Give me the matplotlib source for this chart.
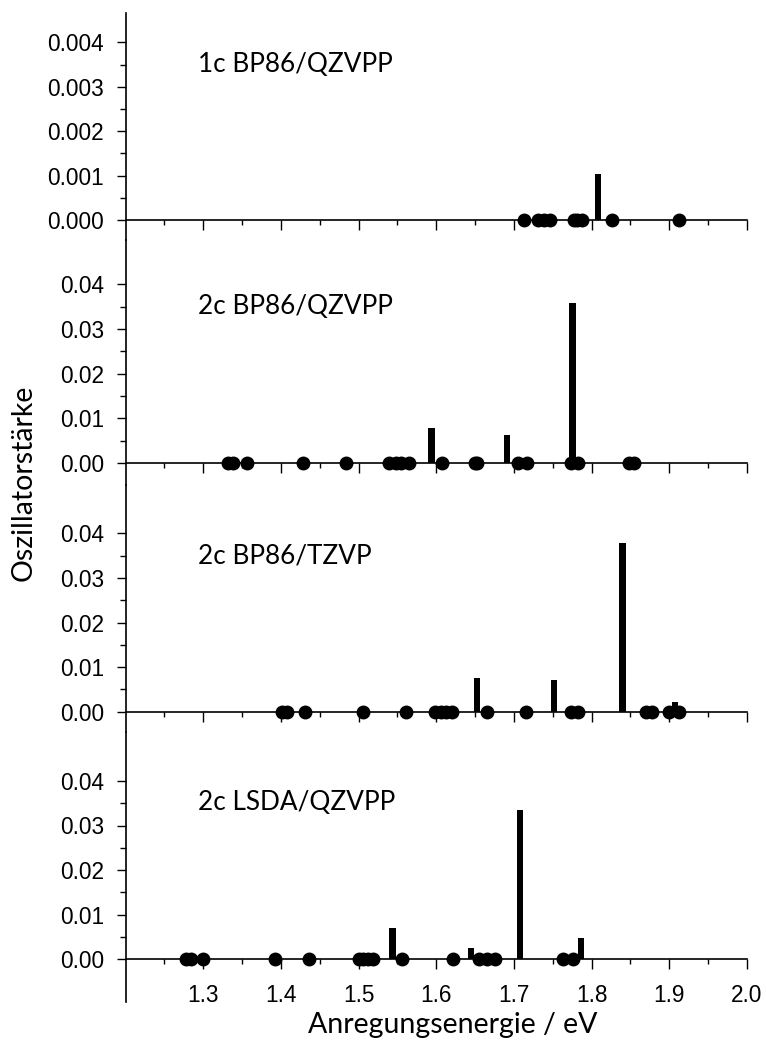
import matplotlib
matplotlib.use("Agg")
import matplotlib.pyplot as plt
from matplotlib.ticker import FixedLocator, FormatStrFormatter

# ---------------- data ----------------
panel_labels = ["1c BP86/QZVPP", "2c BP86/QZVPP", "2c BP86/TZVP", "2c LSDA/QZVPP"]

# states with (near) zero oscillator strength, drawn as dots on the axis
dots_1c_qz = [1.7126, 1.7306, 1.7383, 1.7469, 1.7768, 1.7810, 1.7875, 1.8268, 1.9128]
dots_2c_qz = [1.332, 1.338, 1.357, 1.429, 1.484, 1.539, 1.548, 1.555, 1.565,
              1.607, 1.650, 1.653, 1.705, 1.717, 1.774, 1.782, 1.848, 1.855]
dots_2c_tz = [1.402, 1.408, 1.431, 1.506, 1.561, 1.599, 1.606, 1.613, 1.620,
              1.665, 1.715, 1.774, 1.782, 1.870, 1.878, 1.900, 1.912]
dots_2c_lsda = [1.278, 1.284, 1.300, 1.393, 1.436, 1.500, 1.506, 1.512, 1.518,
                1.556, 1.621, 1.655, 1.665, 1.675, 1.763, 1.776]

# states with visible oscillator strength, drawn as bars
bar_x_1c_qz = [1.808]
bar_f_1c_qz = [0.00103]
bar_x_2c_qz = [1.594, 1.691, 1.7756]
bar_f_2c_qz = [0.0078, 0.0063, 0.0357]
bar_x_2c_tz = [1.6525, 1.7517, 1.8398, 1.907]
bar_f_2c_tz = [0.0075, 0.0071, 0.0379, 0.0022]
bar_x_2c_lsda = [1.5438, 1.6446, 1.708, 1.786]
bar_f_2c_lsda = [0.0069, 0.0025, 0.0335, 0.0047]

y_major_1c = [0.000, 0.001, 0.002, 0.003, 0.004]
y_minor_1c = [0.0005, 0.0015, 0.0025, 0.0035]
y_major_2c = [0.00, 0.01, 0.02, 0.03, 0.04]
y_minor_2c = [0.005, 0.015, 0.025, 0.035]
x_major = [1.3, 1.4, 1.5, 1.6, 1.7, 1.8, 1.9, 2.0]
x_minor = [1.25, 1.35, 1.45, 1.55, 1.65, 1.75, 1.85, 1.95]

x_label = "Anregungsenergie / eV"
y_label = "Oszillatorstärke"

# ---------------- layout ----------------
W, H = 766, 1043
fig = plt.figure(figsize=(W / 100, H / 100), dpi=100)

left_px, right_px = 125.5, 747.0
# (top px, bottom px, zero-line px, px per unit)
layout = [
    (13, 240, 220.0, 44400.0),
    (240, 485, 463.0, 4470.0),
    (485, 732, 711.7, 4460.0),
    (732, 1002, 959.0, 4450.0),
]

panels = [
    (dots_1c_qz, bar_x_1c_qz, bar_f_1c_qz, y_major_1c, y_minor_1c, "%.3f"),
    (dots_2c_qz, bar_x_2c_qz, bar_f_2c_qz, y_major_2c, y_minor_2c, "%.2f"),
    (dots_2c_tz, bar_x_2c_tz, bar_f_2c_tz, y_major_2c, y_minor_2c, "%.2f"),
    (dots_2c_lsda, bar_x_2c_lsda, bar_f_2c_lsda, y_major_2c, y_minor_2c, "%.2f"),
]

tick_font = "Liberation Sans"
text_font = ["Lato", "DejaVu Sans"]

for i, ((top, bot, zero, scale), (dots, bx, bf, ymaj, ymin_t, fmt)) in enumerate(zip(layout, panels)):
    ax = fig.add_axes([left_px / W, 1 - bot / H, (right_px - left_px) / W, (bot - top) / H])
    ax.set_xlim(1.2, 2.0)
    ax.set_ylim((zero - bot) / scale, (zero - top) / scale)
    ax.patch.set_alpha(0)

    ax.bar(bx, bf, width=0.0082, color="black", zorder=3)
    ax.plot(dots, [0] * len(dots), "o", color="black", markersize=9,
            clip_on=False, zorder=4)

    for s in ("top", "right"):
        ax.spines[s].set_visible(False)
    ax.spines["bottom"].set_position(("data", 0))
    ax.spines["bottom"].set_linewidth(1.2)
    ax.spines["left"].set_linewidth(1.2)

    ax.xaxis.set_major_locator(FixedLocator(x_major))
    ax.xaxis.set_minor_locator(FixedLocator(x_minor))
    ax.yaxis.set_major_locator(FixedLocator(ymaj))
    ax.yaxis.set_minor_locator(FixedLocator(ymin_t))
    ax.yaxis.set_major_formatter(FormatStrFormatter(fmt))
    ax.xaxis.set_major_formatter(FormatStrFormatter("%.1f"))

    ax.tick_params(axis="x", which="major", direction="out", length=7.2, width=1.0, pad=11)
    ax.tick_params(axis="x", which="minor", direction="out", length=3.6, width=1.0)
    ax.tick_params(axis="y", which="major", direction="out", length=6.5, width=1.0, pad=9)
    ax.tick_params(axis="y", which="minor", direction="out", length=4.3, width=1.0)
    for lab in ax.get_yticklabels():
        lab.set_fontfamily(tick_font)
        lab.set_fontsize(16.3)
    if i < 3:
        ax.tick_params(axis="x", labelbottom=False)
    else:
        for lab in ax.get_xticklabels():
            lab.set_fontfamily(tick_font)
            lab.set_fontsize(16.3)

    fig.text(197.5 / W, 1 - (zero - 156) / H, panel_labels[i], family=text_font,
             fontsize=18.8, ha="left", va="center")

fig.text(453 / W, 1 - 1025 / H, x_label, family=text_font, fontsize=20.5,
         ha="center", va="center")
fig.text(24 / W, 1 - 483 / H, y_label, family=text_font, fontsize=20.5,
         ha="center", va="center", rotation=90)

fig.savefig("out.png", dpi=100)
